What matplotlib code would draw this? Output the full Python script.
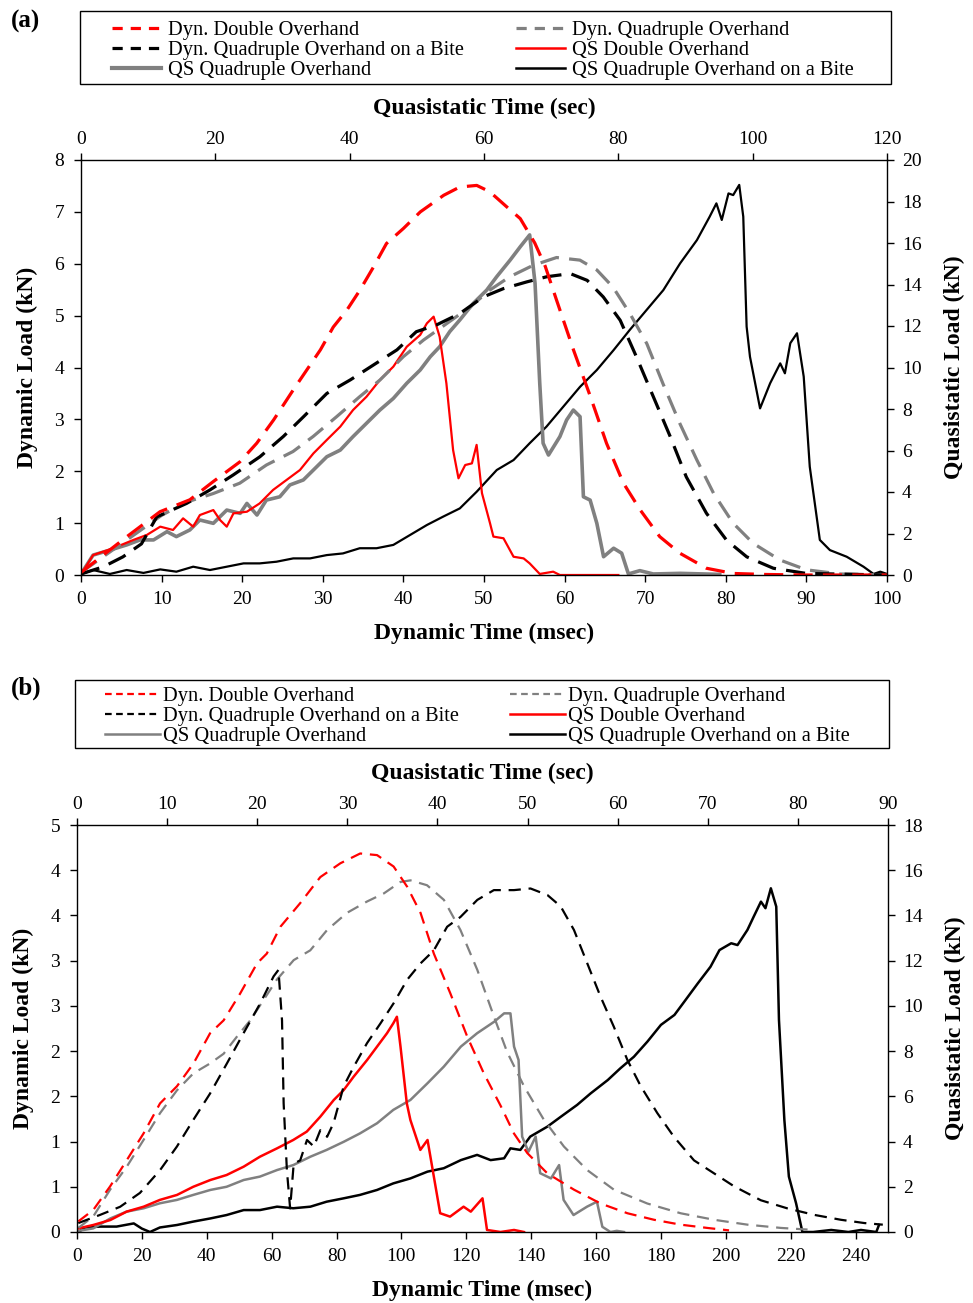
import matplotlib
matplotlib.use('Agg')
import matplotlib.pyplot as plt
import numpy as np
from matplotlib.lines import Line2D
from matplotlib.patches import Rectangle

plt.rcParams['font.family'] = 'serif'
plt.rcParams['font.serif'] = ['Liberation Serif', 'DejaVu Serif']

# ---------------- panel (a) ----------------
a_dyn_do_t = [0, 5.7, 9.8, 13.5, 16.4, 19.7, 21.8, 23.9, 26.3, 28.0, 29.7, 31.3, 33.0, 34.6, 36.3, 37.9,
              40.0, 42.1, 45.0, 47.0, 49.1, 50.7, 52.8, 54.5, 56.3, 57.6, 59.0, 61.1, 63.2, 65.2, 67.3,
              69.4, 71.8, 74.3, 77.6, 80.9, 85, 90, 95, 100]
a_dyn_do = [0.05, 0.74, 1.22, 1.45, 1.80, 2.18, 2.54, 2.99, 3.56, 3.95, 4.34, 4.78, 5.11, 5.49, 5.94, 6.39,
            6.68, 7.00, 7.32, 7.48, 7.51, 7.39, 7.10, 6.87, 6.40, 5.95, 5.30, 4.34, 3.44, 2.54, 1.77,
            1.25, 0.74, 0.42, 0.13, 0.03, 0.01, 0, 0, 0]

a_dyn_qo_t = [0, 5, 10, 13, 16.4, 19.7, 23.0, 26.3, 28.8, 31.7, 34.6, 37.1, 40.0, 42.5, 45.4, 48.3, 50.7,
              53.2, 56.1, 59.0, 61.9, 64.0, 66.0, 68.1, 70.2, 72.2, 74.3, 76.4, 78.5, 80.9, 83.4, 86.7,
              90.0, 94.2, 100]
a_dyn_qo = [0.05, 0.6, 1.15, 1.4, 1.57, 1.77, 2.12, 2.38, 2.67, 3.05, 3.44, 3.76, 4.21, 4.53, 4.85, 5.17,
            5.49, 5.75, 5.97, 6.12, 6.07, 5.88, 5.55, 5.04, 4.46, 3.69, 2.92, 2.22, 1.57, 1.00, 0.61,
            0.29, 0.10, 0.02, 0]

a_dyn_qob_t = [0, 2.8, 5.2, 7.5, 9.4, 13.1, 16.0, 18.9, 22.2, 25.1, 27.6, 30.5, 33.4, 36.3, 39.2, 41.6,
               44.1, 47.0, 49.9, 52.4, 55.3, 57.8, 60.7, 62.8, 64.8, 66.9, 68.9, 71.0, 73.1, 75.1, 77.6,
               80.1, 82.6, 85.9, 90.0, 100]
a_dyn_qob = [0.02, 0.16, 0.35, 0.6, 1.12, 1.38, 1.64, 1.93, 2.28, 2.67, 3.05, 3.50, 3.76, 4.05, 4.34, 4.69,
             4.82, 5.04, 5.36, 5.52, 5.65, 5.75, 5.81, 5.68, 5.36, 4.91, 4.21, 3.44, 2.67, 1.89, 1.19,
             0.67, 0.35, 0.13, 0.03, 0]

a_qs_do_s = [0.1, 1.8, 4.8, 7.8, 9.8, 11.8, 13.7, 15.2, 16.7, 17.7, 19.7, 20.7, 21.7, 22.7, 24.7, 26.6,
             28.6, 30.6, 32.6, 34.6, 36.6, 38.6, 40.5, 42.5, 44.5, 46.5, 48.5, 50.5, 51.5, 52.5, 53.4,
             54.4, 55.4, 56.2, 57.2, 58.2, 58.9, 59.7, 60.9, 61.4, 62.9, 64.4, 65.9, 66.8, 68.3, 70.3,
             71.3, 80.0]
a_qs_do = [0.08, 0.96, 1.29, 1.69, 1.93, 2.33, 2.17, 2.73, 2.33, 2.89, 3.13, 2.65, 2.33, 2.97, 3.05, 3.45,
           4.10, 4.58, 5.06, 5.86, 6.51, 7.15, 7.95, 8.59, 9.40, 10.04, 11.0, 11.57, 12.13, 12.45, 11.48,
           9.24, 6.02, 4.66, 5.30, 5.38, 6.27, 3.94, 2.49, 1.85, 1.77, 0.88, 0.80, 0.56, 0.05, 0.16,
           0.0, 0.0]

a_qs_qo_s = [0.1, 1.8, 4.3, 6.8, 8.8, 10.8, 12.8, 14.2, 16.2, 17.7, 19.7, 21.7, 23.7, 24.7, 26.2, 27.6,
             29.6, 31.1, 33.1, 34.6, 36.6, 38.6, 40.5, 42.5, 44.5, 46.5, 48.5, 50.5, 52.0, 53.4, 54.9,
             56.4, 58.4, 60.4, 61.9, 63.9, 65.4, 66.8, 67.6, 68.3, 68.8, 69.6, 71.3, 72.3, 73.3, 74.3,
             74.8, 75.8, 76.8, 77.8, 79.3, 80.5, 81.5, 83.2, 85.2, 89.2, 95.1]
a_qs_qo = [0.1, 0.96, 1.2, 1.45, 1.69, 1.69, 2.09, 1.85, 2.17, 2.65, 2.49, 3.13, 2.97, 3.45, 2.89, 3.61,
           3.77, 4.34, 4.58, 5.06, 5.70, 6.02, 6.67, 7.31, 7.95, 8.51, 9.24, 9.88, 10.52, 11.0, 11.73,
           12.29, 13.09, 13.73, 14.38, 15.18, 15.82, 16.39, 14.06, 9.24, 6.35, 5.78, 6.67, 7.47, 7.95, 7.63,
           3.77, 3.61, 2.49, 0.88, 1.29, 1.05, 0.05, 0.21, 0.05, 0.08, 0.03]

a_qs_qob_s = [0.1, 1.8, 4.3, 6.8, 9.3, 11.8, 14.2, 16.7, 19.2, 21.7, 24.2, 26.6, 29.1, 31.6, 34.1, 36.6,
              39.0, 41.5, 44.0, 46.5, 49.0, 51.5, 53.9, 56.4, 58.9, 61.9, 64.4, 66.8, 69.3, 71.8, 74.3,
              76.8, 79.3, 81.7, 84.2, 86.7, 89.2, 91.7, 93.6, 94.6, 95.4, 96.4, 97.1, 98.0, 98.6, 99.1,
              99.6, 101.1, 102.6, 104.1, 104.8, 105.6, 106.6, 107.6, 108.5, 110.0, 111.5, 114.0, 116.5,
              118.0, 119.0, 120.0]
a_qs_qob = [0.05, 0.24, 0.05, 0.24, 0.1, 0.27, 0.16, 0.4, 0.24, 0.4, 0.56, 0.56, 0.64, 0.8, 0.8, 0.96,
            1.04, 1.29, 1.29, 1.45, 1.93, 2.41, 2.81, 3.21, 4.01, 5.06, 5.54, 6.35, 7.15, 8.11, 9.07,
            9.88, 10.84, 11.81, 12.77, 13.73, 15.02, 16.14, 17.27, 17.91, 17.11, 18.39, 18.31, 18.80, 17.27,
            11.97, 10.52, 8.03, 9.24, 10.2, 9.72, 11.17, 11.65, 9.56, 5.22, 1.69, 1.2, 0.88, 0.40, 0.05,
            0.16, 0.05]

# ---------------- panel (b) ----------------
b_dyn_do_t = [0.4, 5.0, 10.2, 15.3, 20.5, 25.6, 30.8, 35.9, 41.0, 45.2, 50.3, 55.5, 58.5, 62.7, 68.8,
              75.0, 81.2, 87.3, 92.5, 97.6, 101.8, 105.9, 110.0, 115.1, 120.3, 125.4, 130.6, 134.7,
              138.8, 145.0, 153.2, 161.4, 169.7, 177.9, 186.1, 194.3, 201.0]
b_dyn_do = [0.13, 0.27, 0.56, 0.88, 1.21, 1.58, 1.79, 2.07, 2.44, 2.60, 2.93, 3.30, 3.42, 3.75, 4.04,
            4.36, 4.53, 4.65, 4.63, 4.49, 4.24, 3.92, 3.42, 2.93, 2.40, 1.95, 1.55, 1.21, 0.97, 0.72,
            0.52, 0.35, 0.23, 0.15, 0.09, 0.05, 0.02]

b_dyn_qo_t = [0.4, 5.0, 10.2, 15.3, 20.5, 25.6, 30.8, 35.9, 41.0, 45.2, 49.3, 53.4, 57.5, 61.6, 66.8,
              71.9, 77.1, 83.2, 89.4, 94.6, 99.7, 102.8, 107.9, 113.1, 118.2, 123.4, 128.5, 132.6,
              137.8, 143.9, 150.1, 157.3, 165.5, 175.8, 186.1, 196.4, 206.7, 217.0, 225.2]
b_dyn_qo = [0.05, 0.19, 0.52, 0.80, 1.13, 1.46, 1.74, 1.95, 2.07, 2.19, 2.40, 2.60, 2.85, 3.10, 3.34,
            3.46, 3.71, 3.92, 4.06, 4.16, 4.30, 4.32, 4.26, 4.08, 3.71, 3.22, 2.65, 2.21, 1.79, 1.38,
            1.05, 0.76, 0.52, 0.35, 0.23, 0.15, 0.09, 0.05, 0.03]

b_dyn_qob_t = [0.4, 7.1, 13.3, 19.4, 25.6, 30.8, 35.9, 41.0, 46.2, 51.3, 56.5, 60.6, 62.1, 63.2, 63.7,
               64.7, 65.7, 66.8, 68.8, 70.9, 73.0, 75.0, 77.1, 79.1, 82.2, 85.3, 89.4, 93.5, 97.6, 101.8,
               105.9, 110.0, 114.1, 118.2, 123.4, 128.5, 134.7, 139.8, 145.0, 149.1, 153.2, 157.3, 161.4,
               165.5, 169.7, 173.8, 178.9, 184.0, 190.2, 196.4, 202.6, 210.8, 219.0, 227.3, 235.5, 242.7,
               248.4]
b_dyn_qob = [0.11, 0.21, 0.31, 0.48, 0.76, 1.05, 1.38, 1.70, 2.07, 2.44, 2.81, 3.14, 3.22, 2.60, 1.58,
             0.76, 0.29, 0.84, 0.88, 1.13, 1.05, 1.25, 1.17, 1.34, 1.79, 2.03, 2.32, 2.56, 2.81, 3.10,
             3.30, 3.46, 3.75, 3.87, 4.08, 4.20, 4.20, 4.22, 4.14, 4.00, 3.71, 3.30, 2.89, 2.52, 2.11,
             1.79, 1.46, 1.17, 0.88, 0.72, 0.56, 0.39, 0.29, 0.21, 0.15, 0.11, 0.09]

b_qs_do_s = [0.15, 1.8, 3.7, 5.5, 7.4, 9.2, 11.1, 12.9, 14.8, 16.6, 18.5, 20.3, 22.2, 24.0, 25.5, 27.0,
             28.5, 29.6, 30.7, 32.2, 33.3, 34.4, 35.1, 35.5, 35.9, 36.6, 37.0, 38.1, 38.9, 39.6, 40.3,
             41.4, 42.9, 43.7, 45.0, 45.5, 47.0, 48.5, 49.6]
b_qs_do = [0.16, 0.31, 0.53, 0.90, 1.12, 1.42, 1.64, 2.00, 2.30, 2.52, 2.89, 3.33, 3.70, 4.07, 4.44, 5.10,
           5.84, 6.28, 6.87, 7.61, 8.20, 8.79, 9.23, 9.52, 8.20, 5.69, 4.95, 3.63, 4.07, 2.45, 0.83,
           0.68, 1.12, 0.90, 1.49, 0.09, 0.0, 0.09, 0.0]

b_qs_qo_s = [0.15, 1.8, 3.7, 5.5, 7.4, 9.2, 11.1, 12.9, 14.8, 16.6, 18.5, 20.3, 22.2, 24.0, 25.9, 27.7,
             29.6, 31.4, 33.3, 35.1, 37.0, 38.9, 40.7, 42.6, 44.4, 46.3, 47.4, 48.1, 48.5, 49.0, 49.4,
             50.1, 50.9, 51.4, 52.6, 53.5, 54.0, 55.1, 56.6, 57.7, 58.3, 59.2, 59.9, 60.7]
b_qs_qo = [0.05, 0.16, 0.6, 0.90, 1.05, 1.27, 1.42, 1.64, 1.86, 2.00, 2.30, 2.45, 2.74, 2.96, 3.33, 3.63,
           3.99, 4.36, 4.81, 5.40, 5.84, 6.58, 7.31, 8.20, 8.79, 9.30, 9.67, 9.67, 8.20, 7.61, 4.22,
           3.55, 4.22, 2.60, 2.37, 2.96, 1.42, 0.75, 1.12, 1.34, 0.23, 0.0, 0.05, 0.0]

b_qs_qob_s = [0.15, 0.9, 2.6, 4.4, 6.3, 7.2, 8.1, 9.2, 11.1, 12.9, 14.8, 16.6, 18.5, 20.3, 22.2, 24.0,
              25.9, 27.7, 29.6, 31.4, 33.3, 35.1, 37.0, 38.9, 40.7, 42.6, 44.4, 45.9, 47.4, 48.1, 49.2,
              50.3, 52.2, 53.7, 55.5, 57.0, 58.9, 60.3, 61.8, 63.3, 64.8, 66.3, 67.4, 68.9, 70.3, 71.3,
              72.6, 73.3, 74.4, 75.1, 75.9, 76.4, 77.0, 77.6, 77.9, 78.5, 79.0, 79.8, 80.5, 81.7, 83.7,
              85.6, 87.0, 88.7, 89.0]
b_qs_qob = [0.0, 0.2, 0.24, 0.24, 0.38, 0.15, 0.0, 0.2, 0.31, 0.46, 0.6, 0.75, 0.97, 0.97, 1.12, 1.05,
            1.12, 1.34, 1.49, 1.64, 1.86, 2.15, 2.37, 2.67, 2.82, 3.18, 3.41, 3.18, 3.26, 3.70, 3.63,
            4.22, 4.66, 5.10, 5.62, 6.13, 6.72, 7.24, 7.75, 8.42, 9.16, 9.60, 10.19, 11.0, 11.73, 12.47,
            12.77, 12.69, 13.36, 13.95, 14.61, 14.32, 15.20, 14.39, 9.38, 4.95, 2.45, 1.27, 0.0, 0.0,
            0.09, 0.0, 0.09, 0.0, 0.31]

labels_left = ['Dyn. Double Overhand', 'Dyn. Quadruple Overhand on a Bite', 'QS Quadruple Overhand']
labels_right = ['Dyn. Quadruple Overhand', 'QS Double Overhand', 'QS Quadruple Overhand on a Bite']

GRAY = '#808080'
W, H = 973, 1303
fig = plt.figure(figsize=(W / 100, H / 100), dpi=100)


def rect(x0, x1, y0, y1):
    return [x0 / W, 1 - y1 / H, (x1 - x0) / W, (y1 - y0) / H]


def setup(r, xlim, ylim, qxlim, qylim, xt, yt, qxt, qyt):
    ax = fig.add_axes(r)
    axq = fig.add_axes(r, frameon=False)
    axq.patch.set_visible(False)
    for s in ax.spines.values():
        s.set_linewidth(1.0)
    ax.set_xlim(*xlim)
    ax.set_ylim(*ylim)
    axq.set_xlim(*qxlim)
    axq.set_ylim(*qylim)
    ax.set_xticks(xt)
    ax.set_yticks(yt)
    axq.set_xticks(qxt)
    axq.set_yticks(qyt)
    ax.tick_params(direction='out', length=5, width=1, labelsize=14, top=False, right=False)
    ax.tick_params(axis='x', pad=6.4)
    ax.tick_params(axis='y', pad=7.1)
    axq.tick_params(direction='out', length=5, width=1, labelsize=14,
                    top=True, right=True, bottom=False, left=False,
                    labeltop=True, labelright=True, labelbottom=False, labelleft=False)
    axq.tick_params(axis='y', pad=5.7)
    axq.xaxis.set_label_position('top')
    axq.yaxis.set_label_position('right')
    kw = dict(fontsize=17, fontweight='bold')
    ax.set_xlabel('Dynamic Time (msec)', labelpad=11, **kw)
    ax.set_ylabel('Dynamic Load (kN)', labelpad=11.5, **kw)
    axq.set_xlabel('Quasistatic Time (sec)', labelpad=12.5, **kw)
    axq.set_ylabel('Quasistatic Load (kN)', labelpad=16, **kw)
    return ax, axq


def legend_block(box, col_x, row_top, hlen, hpad, hl, hr):
    x0, x1, y0, y1 = box
    fig.add_artist(Rectangle((x0 / W, 1 - y1 / H), (x1 - x0) / W, (y1 - y0) / H,
                             transform=fig.transFigure, fill=False, edgecolor='black', lw=1.0))
    for x, hs, lb in zip(col_x, (hl, hr), (labels_left, labels_right)):
        fig.legend(hs, lb, loc='upper left', bbox_to_anchor=(x / W, 1 - row_top / H),
                   frameon=False, fontsize=14.7, borderpad=0, borderaxespad=0,
                   handlelength=hlen, handletextpad=hpad, labelspacing=0.05)


# panel (a)
ax, axq = setup(rect(81, 887, 160, 575), (0, 100), (0, 8), (0, 120), (0, 20),
                range(0, 101, 10), range(0, 9), range(0, 121, 20), range(0, 21, 2))
da = (6, 3.2)
lwd = 2.3
axq.plot(a_qs_qob_s, a_qs_qob, color='black', lw=1.6)
axq.plot(a_qs_qo_s, a_qs_qo, color=GRAY, lw=2.6)
axq.plot(a_qs_do_s, a_qs_do, color='red', lw=1.6)
ax.plot(a_dyn_qo_t, a_dyn_qo, color=GRAY, lw=lwd, dashes=da)
ax.plot(a_dyn_qob_t, a_dyn_qob, color='black', lw=lwd, dashes=da)
ax.plot(a_dyn_do_t, a_dyn_do, color='red', lw=lwd, dashes=da)
ax.set_zorder(2)
ax.patch.set_visible(False)
axq.set_zorder(1)

legend_block((80, 891, 11, 84), (112, 516), 20.5, 2.4, 0.32,
             [Line2D([], [], color='red', lw=lwd, dashes=(3.2, 2.5)),
              Line2D([], [], color='black', lw=lwd, dashes=(3.2, 2.5)),
              Line2D([], [], color=GRAY, lw=3.0)],
             [Line2D([], [], color=GRAY, lw=lwd, dashes=(3.2, 2.5)),
              Line2D([], [], color='red', lw=1.8),
              Line2D([], [], color='black', lw=1.8)])
fig.text(11 / W, 1 - 21 / H, '(a)', fontsize=18, fontweight='bold', va='center', ha='left')

# panel (b)
b_left_ticks = np.linspace(0, 5, 10)
ax, axq = setup(rect(77, 888, 825, 1232), (0, 250), (0, 5), (0, 90), (0, 18),
                range(0, 241, 20), b_left_ticks, range(0, 91, 10), range(0, 19, 2))
ax.set_yticklabels(['%d' % int(np.floor(v + 0.5)) for v in b_left_ticks])
db = (5.5, 3.5)
lwb = 1.6
axq.plot(b_qs_qob_s, b_qs_qob, color='black', lw=1.8)
axq.plot(b_qs_qo_s, b_qs_qo, color=GRAY, lw=1.8)
axq.plot(b_qs_do_s, b_qs_do, color='red', lw=1.8)
ax.plot(b_dyn_qo_t, b_dyn_qo, color=GRAY, lw=lwb, dashes=db)
ax.plot(b_dyn_qob_t, b_dyn_qob, color='black', lw=lwb, dashes=db)
ax.plot(b_dyn_do_t, b_dyn_do, color='red', lw=lwb, dashes=db)
ax.set_zorder(2)
ax.patch.set_visible(False)
axq.set_zorder(1)

legend_block((75, 889, 680, 748), (105, 510), 686.5, 2.7, 0.15,
             [Line2D([], [], color='red', lw=lwb, dashes=(3, 2)),
              Line2D([], [], color='black', lw=lwb, dashes=(3, 2)),
              Line2D([], [], color=GRAY, lw=1.8)],
             [Line2D([], [], color=GRAY, lw=lwb, dashes=(3, 2)),
              Line2D([], [], color='red', lw=1.8),
              Line2D([], [], color='black', lw=1.8)])
fig.text(11 / W, 1 - 688 / H, '(b)', fontsize=18, fontweight='bold', va='center', ha='left')

fig.savefig('out.png', dpi=100)
